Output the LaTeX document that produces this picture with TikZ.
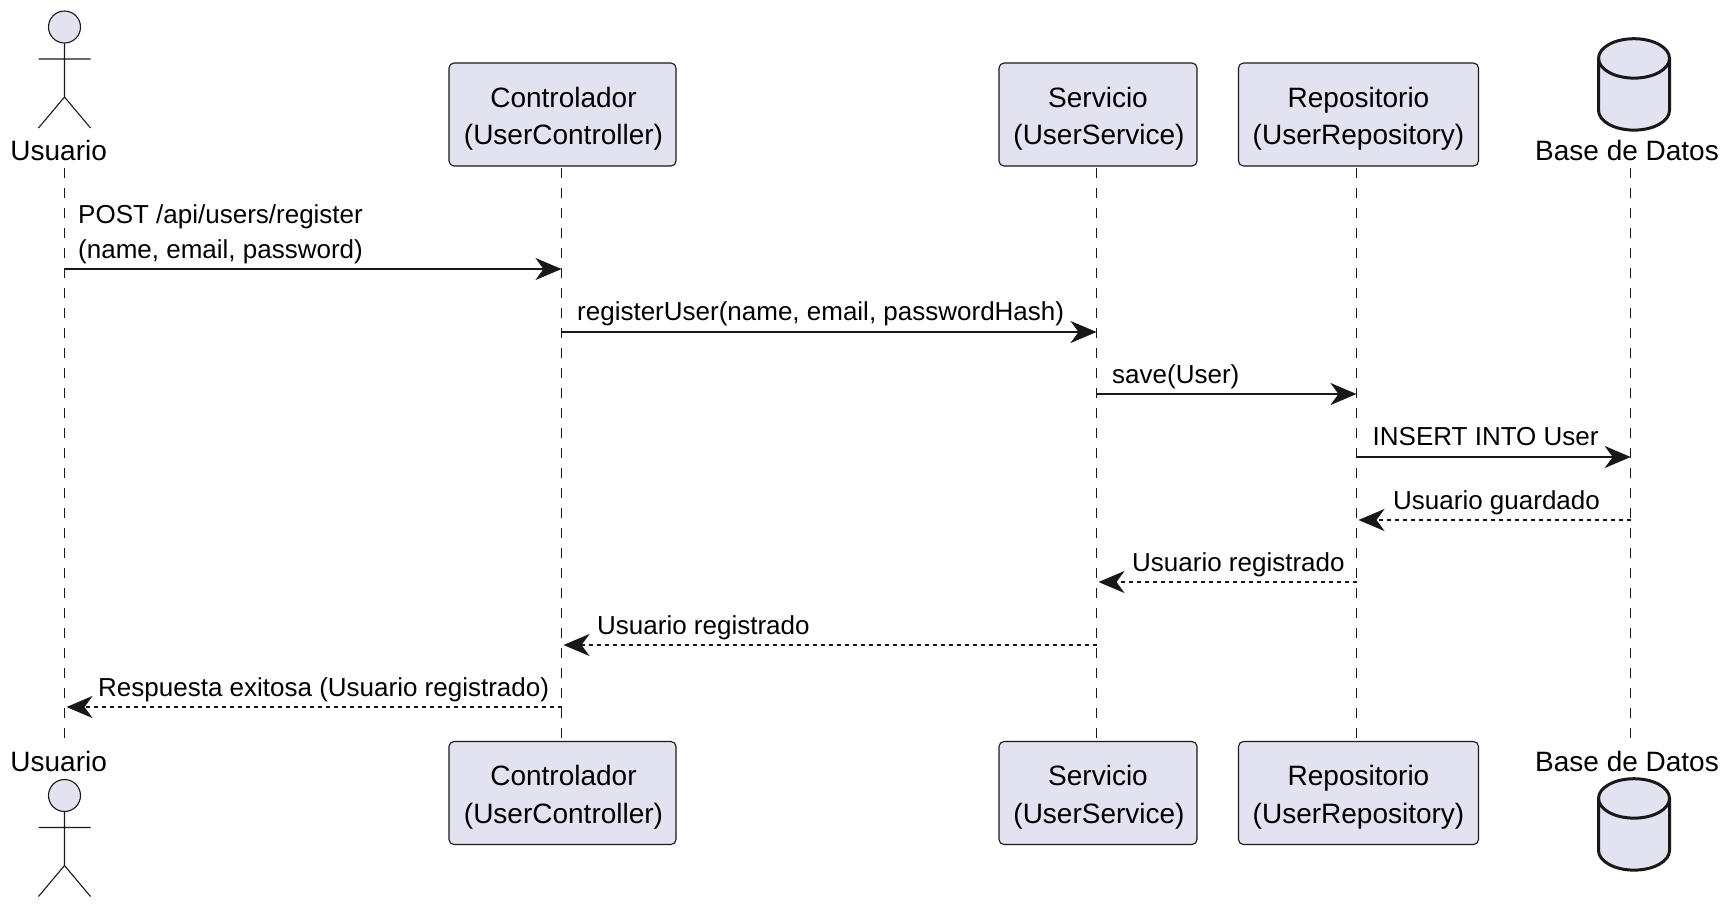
\documentclass[tikz,border=0pt]{standalone}
\usepackage{fontspec}
\setmainfont{Liberation Sans}
\usetikzlibrary{arrows.meta}
\definecolor{ink}{HTML}{181818}
\definecolor{boxfill}{HTML}{E2E2F0}
\tikzset{
  x=1pt,y=-1pt,
  partbox/.style={draw=ink,fill=boxfill,line width=1.1pt,rounded corners=5pt,inner sep=0pt,align=center,
    minimum height=103pt,font=\fontsize{28}{37.5}\selectfont,text=black},
  partlabel/.style={inner sep=0pt,anchor=base,font=\fontsize{28}{34}\selectfont,text=black},
  msglabel/.style={inner sep=0pt,anchor=base west,font=\fontsize{26}{34}\selectfont,text=black},
  lifeline/.style={draw=ink,line width=1.1pt,dash pattern=on 10pt off 10pt},
  syncmsg/.style={draw=ink,line width=2.3pt,-{Stealth[length=26pt,width=22pt,inset=8pt,fill=ink]}},
  retmsg/.style={draw=ink,line width=2.3pt,dash pattern=on 4pt off 4pt,shorten >=2pt,-{Stealth[length=26pt,width=22pt,inset=8pt,fill=ink]}},
  actorline/.style={draw=ink,line width=1.1pt},
  dbline/.style={draw=ink,line width=3pt,fill=boxfill},
}
\newcommand{\actorfig}[1]{%
  \draw[actorline,fill=boxfill] (64.5,#1) circle (16);
  \draw[actorline] (64.5,#1+16) -- (64.5,#1+70) (38.5,#1+32) -- (90.5,#1+32)
    (38.5,#1+101) -- (64.5,#1+70) -- (90.5,#1+101);}
\newcommand{\dbfig}[1]{%
  \draw[dbline] (1598.5,#1+19.7) arc[start angle=180,end angle=360,x radius=35.5,y radius=19.7]
     -- (1669.5,#1+71.7) arc[start angle=0,end angle=180,x radius=35.5,y radius=19.7] -- cycle;
  \draw[dbline,fill=none] (1598.5,#1+19.7) arc[start angle=180,end angle=0,x radius=35.5,y radius=19.7];}
\newcommand{\partstrut}{\rule{0pt}{28.5pt}}
\newcommand{\nudge}{\hspace*{2pt}}
\begin{document}
\begin{tikzpicture}
\useasboundingbox (0,0) rectangle (1731,906);
% lifelines
\foreach \n/\x in {u/64.5,c/561.5,s/1096.5,r/1356.5,b/1630.7}{
  \coordinate (\n life) at (\x,168);
  \coordinate (\n end) at (\x,738);
  \draw[lifeline] (\n life) -- (\n end);
}
% participants
\actorfig{27}
\actorfig{795.5}
\node[partlabel] (utext) at (58.7,160) {Usuario};
\node[partlabel] (utextb) at (58.7,771) {Usuario};
\node[partbox,minimum width=227pt] (ctop) at (562.5,114.5) {\partstrut\nudge Controlador\\\nudge(UserController)};
\node[partbox,minimum width=198pt] (stop) at (1098,114.5) {\partstrut Servicio\\\nudge(UserService)};
\node[partbox,minimum width=240pt] (rtop) at (1358.5,114.5) {\partstrut Repositorio\\(UserRepository)};
\node[partbox,minimum width=227pt] (cbot) at (562.5,793) {\partstrut\nudge Controlador\\\nudge(UserController)};
\node[partbox,minimum width=198pt] (sbot) at (1098,793) {\partstrut Servicio\\\nudge(UserService)};
\node[partbox,minimum width=240pt] (rbot) at (1358.5,793) {\partstrut Repositorio\\(UserRepository)};
\dbfig{38.7}
\dbfig{778.7}
\node[partlabel] (btext) at (1627,160) {Base de Datos};
\node[partlabel] (btextb) at (1627,771) {Base de Datos};
% messages
\foreach \i/\y in {1/269,2/332,3/394,4/457,5/520,6/582,7/645,8/707}{\coordinate (m\i) at (0,\y);}
\draw[syncmsg] (ulife |- m1) -- (clife |- m1);
\draw[syncmsg] (clife |- m2) -- (slife |- m2);
\draw[syncmsg] (slife |- m3) -- (rlife |- m3);
\draw[syncmsg] (rlife |- m4) -- (blife |- m4);
\draw[retmsg] (blife |- m5) -- (rlife |- m5);
\draw[retmsg] (rlife |- m6) -- (slife |- m6);
\draw[retmsg] (slife |- m7) -- (clife |- m7);
\draw[retmsg] (clife |- m8) -- (ulife |- m8);
\node[msglabel] (l1a) at (78,223.5) {POST /api/users/register};
\node[msglabel] (l1b) at (78,258) {(name, email, password)};
\node[msglabel] (l2) at (577,320.5) {registerUser(name, email, passwordHash)};
\node[msglabel] (l3) at (1112,383) {save(User)};
\node[msglabel] (l4) at (1372.5,445.5) {INSERT INTO User};
\node[msglabel] (l5) at (1393,509) {Usuario guardado};
\node[msglabel] (l6) at (1132,571.5) {Usuario registrado};
\node[msglabel] (l7) at (597,634) {Usuario registrado};
\node[msglabel] (l8) at (98,696.5) {Respuesta exitosa (Usuario registrado)};
\end{tikzpicture}
\end{document}
